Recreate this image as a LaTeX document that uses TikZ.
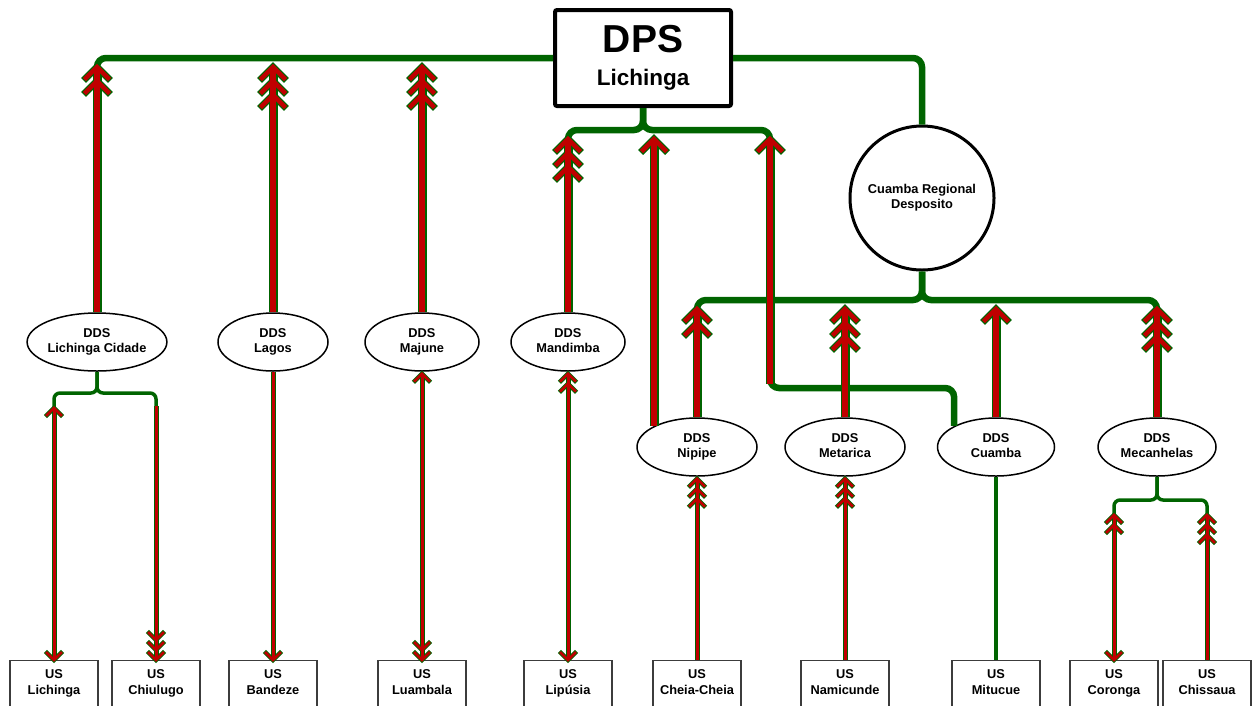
\documentclass[tikz,border=0pt]{standalone}
\usepackage{fontspec}
\setmainfont{Liberation Sans}
\usetikzlibrary{shapes.geometric,decorations.markings,calc}
\definecolor{dg}{RGB}{0,100,0}
\definecolor{dr}{RGB}{192,0,0}
\definecolor{bx}{RGB}{60,60,60}
\newcommand\chevF[2]{\draw[#1,line join=miter,line cap=rect] (-#2,#2) -- (0,0) -- (-#2,-#2);}
\newcommand\chevB[2]{\draw[#1,line join=miter,line cap=rect] (#2,#2) -- (0,0) -- (#2,-#2);}
\newcommand\twol[2]{#1\strut\\#2\strut}
\tikzset{
  bigout/.style={draw=dg,line width=9pt},
  bigin/.style={draw=dr,line width=5.5pt},
  thinout/.style={draw=dg,line width=5pt},
  thinin/.style={draw=dr,line width=3pt},
  bigchevout/.style={draw=dg,line width=7pt},
  bigchevin/.style={draw=dr,line width=4.5pt},
  thinchevout/.style={draw=dg,line width=4.5pt},
  thinchevin/.style={draw=dr,line width=2.6pt},
  gbus/.style={draw=dg,line width=6.5pt,rounded corners=9pt},
  gthin/.style={draw=dg,line width=3.5pt,rounded corners=6pt},
  tipsE/.code n args={4}{%
    \ifnum#4>0
      \pgfmathsetmacro\tipoffE{(#4-1)*#3+0.01}%
      \edef\tmpE{\noexpand\pgfkeysalso{postaction={decorate,decoration={markings,mark=between positions -\tipoffE pt and 1 step #3pt with {\noexpand\chevF{#1}{#2}}}}}}%
      \tmpE
    \fi},
  tipsS/.code n args={4}{%
    \ifnum#4>0
      \pgfmathsetmacro\tipoffS{(#4-1)*#3+0.01}%
      \edef\tmpS{\noexpand\pgfkeysalso{postaction={decorate,decoration={markings,mark=between positions 0 and \tipoffS pt step #3pt with {\noexpand\chevB{#1}{#2}}}}}}%
      \tmpS
    \fi},
  dds/.style={ellipse,draw=black,line width=1.5pt,fill=white,inner sep=0pt,minimum height=58pt,align=center,font=\fontsize{12.8}{15.5}\selectfont\bfseries},
  usbox/.style={rectangle,draw=bx,line width=1.3pt,fill=white,minimum width=88pt,minimum height=46pt,inner sep=0pt,align=center,anchor=north,font=\fontsize{12.8}{16}\selectfont\bfseries},
  dpsbox/.style={rectangle,draw=black,line width=4pt,rounded corners=2pt,fill=white,minimum width=176pt,minimum height=96pt,inner sep=0pt,align=center,font=\fontsize{22.5}{33}\selectfont\bfseries},
  depot/.style={circle,draw=black,line width=3pt,fill=white,minimum size=144pt,inner sep=0pt,align=center,font=\fontsize{12.8}{15}\selectfont\bfseries},
}
\newcommand\bigarr[4]{%
  \draw[bigout,tipsE={bigchevout}{11}{14}{#3},tipsS={bigchevout}{11}{14}{#4}] #1 -- #2;
  \draw[bigin,tipsE={bigchevin}{11}{14}{#3},tipsS={bigchevin}{11}{14}{#4}] #1 -- #2;}
\newcommand\thinarr[4]{%
  \draw[thinout,tipsE={thinchevout}{7}{10}{#3},tipsS={thinchevout}{7}{10}{#4}] #1 -- #2;
  \draw[thinin,tipsE={thinchevin}{7}{10}{#3},tipsS={thinchevin}{7}{10}{#4}] #1 -- #2;}
\begin{document}
\begin{tikzpicture}[x=1pt,y=-1pt]
\useasboundingbox (0,0) rectangle (1252,705);
\clip (0,0) rectangle (1252,705);
% nodes
\node[dpsbox] (dps) at (643,58) {\raisebox{-3pt}{\fontsize{39}{39}\selectfont DPS}\\\raisebox{-3pt}{Lichinga}};
\node[depot] (cir) at (922,198) {Cuamba Regional\\Desposito};
\node[dds,minimum width=118pt] (lc) at (97,342) {\twol{DDS}{Lichinga Cidade}};
\node[dds,minimum width=110pt] (lag) at (273,342) {\twol{DDS}{Lagos}};
\node[dds,minimum width=114pt] (maj) at (422,342) {\twol{DDS}{Majune}};
\node[dds,minimum width=114pt] (mand) at (568,342) {\twol{DDS}{Mandimba}};
\node[dds,minimum width=120pt] (nip) at (697,447) {\twol{DDS}{Nipipe}};
\node[dds,minimum width=120pt] (met) at (845,447) {\twol{DDS}{Metarica}};
\node[dds,minimum width=117pt] (cua) at (996,447) {\twol{DDS}{Cuamba}};
\node[dds,minimum width=118pt] (mec) at (1157,447) {\twol{DDS}{Mecanhelas}};
\node[usbox] (usL) at (54,660) {\twol{US}{Lichinga}};
\node[usbox] (usC) at (156,660) {\twol{US}{Chiulugo}};
\node[usbox] (usB) at (273,660) {\twol{US}{Bandeze}};
\node[usbox] (usLu) at (422,660) {\twol{US}{Luambala}};
\node[usbox] (usLi) at (568,660) {\twol{US}{Lipúsia}};
\node[usbox] (usCC) at (697,660) {\twol{US}{Cheia-Cheia}};
\node[usbox] (usN) at (845,660) {\twol{US}{Namicunde}};
\node[usbox] (usM) at (996,660) {\twol{US}{Mitucue}};
\node[usbox] (usCo) at (1114,660) {\twol{US}{Coronga}};
\node[usbox] (usCh) at (1207,660) {\twol{US}{Chissaua}};
% coordinates
\coordinate (sb) at (643,130);
\coordinate (rb) at (922,300);
\coordinate (lcb) at (97,393);
\coordinate (mb) at (1157,500);
\coordinate (c770) at (770,388);
\coordinate (c770b) at (770,384);
\coordinate (t770) at (770,139);
\coordinate (toptip) at (0,67);
\coordinate (subtip) at (0,139);
\coordinate (midtip) at (0,309);
\coordinate (lctipA) at (0,408);
\coordinate (lctipB) at (0,406);
\coordinate (mtip) at (0,515);
% green lines
\draw[gbus] (dps.west) -| (lc.north);
\draw[gbus] (dps.east) -| (cir.north);
\draw[gbus] (dps.south) -- (sb) -| (mand.north);
\draw[gbus] (dps.south) -- (sb) -| (c770) -| (cua.north west);
\draw[gbus] (cir.south) -- (rb) -| (nip.north);
\draw[gbus] (cir.south) -- (rb) -| (mec.north);
\draw[gthin] (lc.south) -- (lcb) -| (usL.north);
\draw[gthin] (lc.south) -- (lcb) -| (usC.north);
\draw[gthin] (mec.south) -- (mb) -| (usCo.north);
\draw[gthin] (mec.south) -- (mb) -| (usCh.north);
\draw[gthin] (cua.south) -- (usM.north);
% thick arrows
\bigarr{(lc.north)}{(lc.north |- toptip)}{2}{0}
\bigarr{(lag.north)}{(lag.north |- toptip)}{3}{0}
\bigarr{(maj.north)}{(maj.north |- toptip)}{3}{0}
\bigarr{(mand.north)}{(mand.north |- subtip)}{3}{0}
\bigarr{(nip.north west)}{(nip.north west |- subtip)}{1}{0}
\bigarr{(c770b)}{(t770)}{1}{0}
\bigarr{(nip.north)}{(nip.north |- midtip)}{2}{0}
\bigarr{(met.north)}{(met.north |- midtip)}{3}{0}
\bigarr{(cua.north)}{(cua.north |- midtip)}{1}{0}
\bigarr{(mec.north)}{(mec.north |- midtip)}{3}{0}
% thin arrows
\thinarr{(usL.north |- lctipA)}{(usL.north)}{1}{1}
\thinarr{(usC.north |- lctipB)}{(usC.north)}{3}{0}
\thinarr{(lag.south)}{(usB.north)}{1}{0}
\thinarr{([yshift=-2pt]maj.south)}{(usLu.north)}{2}{1}
\thinarr{([yshift=-2pt]mand.south)}{(usLi.north)}{1}{2}
\thinarr{([yshift=-2pt]nip.south)}{(usCC.north)}{0}{3}
\thinarr{([yshift=-2pt]met.south)}{(usN.north)}{0}{3}
\thinarr{(usCo.north |- mtip)}{(usCo.north)}{1}{2}
\thinarr{(usCh.north |- mtip)}{(usCh.north)}{0}{3}
\end{tikzpicture}
\end{document}
